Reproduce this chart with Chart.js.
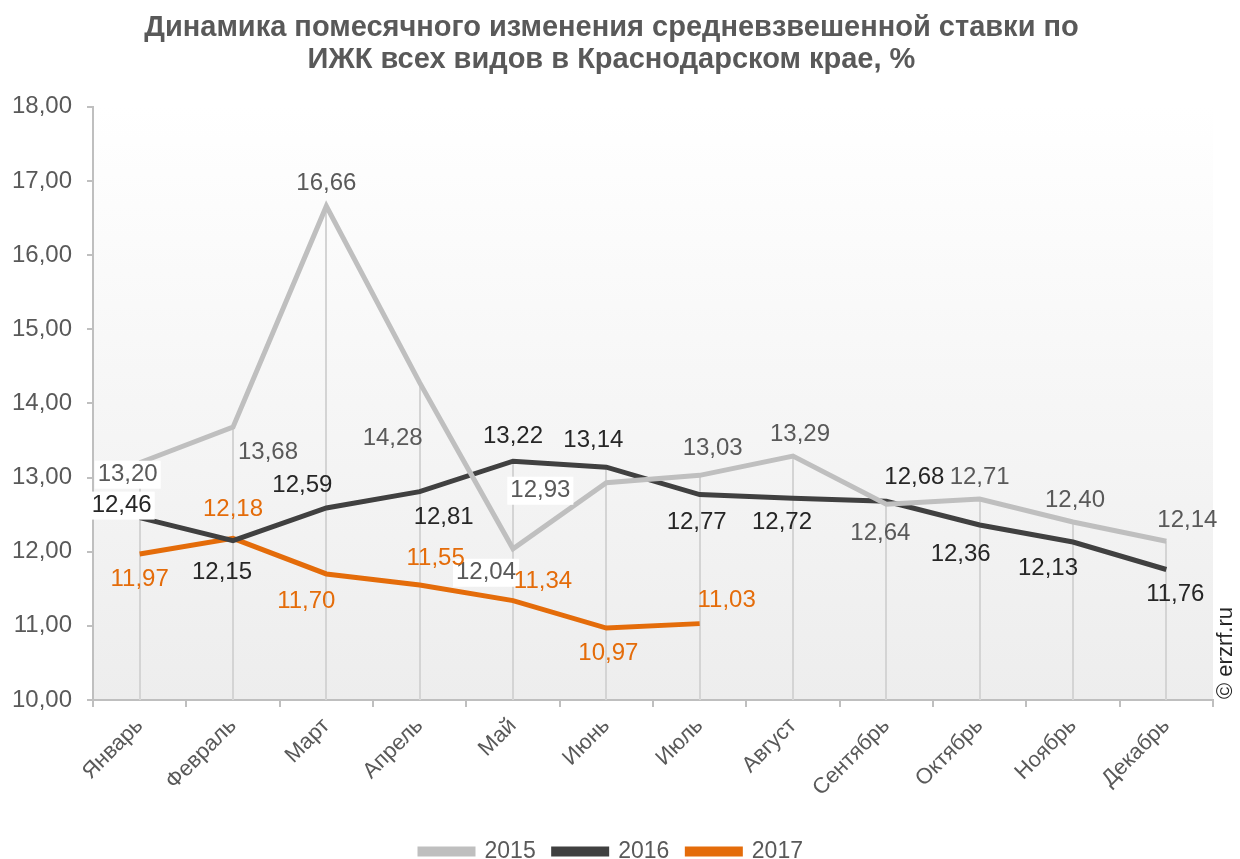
<!DOCTYPE html>
<html>
<head>
<meta charset="utf-8">
<script src="https://cdn.jsdelivr.net/npm/chart.js@4"></script>
<style>
    html, body { margin: 0; padding: 0; background: #ffffff; }
    #wrap { width: 1240px; height: 859px; }
</style>
</head>
<body>
<div id="wrap"><canvas id="rateChart" width="1240" height="859"></canvas></div>
<script>
// Data
const months = ['Январь', 'Февраль', 'Март', 'Апрель', 'Май', 'Июнь', 'Июль', 'Август', 'Сентябрь', 'Октябрь', 'Ноябрь', 'Декабрь'];
const rates2015 = [13.20, 13.68, 16.66, 14.28, 12.04, 12.93, 13.03, 13.29, 12.64, 12.71, 12.40, 12.14];
const rates2016 = [12.46, 12.15, 12.59, 12.81, 13.22, 13.14, 12.77, 12.72, 12.68, 12.36, 12.13, 11.76];
const rates2017 = [11.97, 12.18, 11.70, 11.55, 11.34, 10.97, 11.03];
const yTicks = [10, 11, 12, 13, 14, 15, 16, 17, 18];

// label offsets (px) relative to the point, per series; third item = white box behind
const offsets2015 = [[-12, 12, 1], [35, 25], [0, -23], [-27, 56], [-27, 24, 1], [-66, 8, 1], [13, -27], [7, -22], [-6, 29], [0, -22], [2, -22], [21, -21]];
const offsets2016 = [[-18, -12, 1], [-11, 32], [-24, -23], [24, 26], [0, -25], [-13, -27], [-3, 28], [-11, 24], [28, -24], [-19, 29], [-25, 26], [9, 25]];
const offsets2017 = [[0, 25], [0, -29], [-20, 27], [16, -27], [30, -19], [2, 25], [27, -23]];

const fmt = v => v.toFixed(2).replace('.', ',');

const panelBg = {
    id: 'panelBg',
    beforeDraw(chart) {
        const { ctx, chartArea: a } = chart;
        const g = ctx.createLinearGradient(0, a.top, 0, a.bottom);
        g.addColorStop(0, '#ffffff');
        g.addColorStop(1, '#ededed');
        ctx.save();
        ctx.fillStyle = g;
        ctx.fillRect(a.left, a.top, a.right - a.left, a.bottom - a.top);
        ctx.restore();
    }
};

// vertical drop lines from the highest point of each month
const dropLines = {
    id: 'dropLines',
    beforeDatasetsDraw(chart) {
        const { ctx, scales: { x, y } } = chart;
        ctx.save();
        ctx.strokeStyle = '#d4d4d4';
        ctx.lineWidth = 2;
        months.forEach((m, i) => {
            const vals = [rates2015[i], rates2016[i], rates2017[i]].filter(v => v !== undefined);
            const top = Math.max(...vals);
            const px = Math.round(x.getPixelForValue(i));
            ctx.beginPath();
            ctx.moveTo(px, y.getPixelForValue(top));
            ctx.lineTo(px, y.bottom);
            ctx.stroke();
        });
        ctx.restore();
    }
};

const pointLabels = {
    id: 'pointLabels',
    afterDatasetsDraw(chart) {
        const { ctx } = chart;
        const cfg = [
            { data: rates2015, off: offsets2015, color: '#595959' },
            { data: rates2016, off: offsets2016, color: '#262626' },
            { data: rates2017, off: offsets2017, color: '#e46c0a' }
        ];
        ctx.save();
        ctx.font = '24px "Liberation Sans", Arial, sans-serif';
        ctx.textAlign = 'center';
        ctx.textBaseline = 'middle';
        cfg.forEach((c, di) => {
            const meta = chart.getDatasetMeta(di);
            meta.data.forEach((pt, i) => {
                const tx = pt.x + c.off[i][0];
                const ty = pt.y + c.off[i][1];
                const txt = fmt(c.data[i]);
                if (c.off[i][2]) {
                    const w = ctx.measureText(txt).width + 6;
                    ctx.fillStyle = '#ffffff';
                    ctx.fillRect(tx - w / 2, ty - 14, w, 28);
                }
                ctx.fillStyle = c.color;
                ctx.fillText(txt, tx, ty);
            });
        });
        ctx.restore();
    }
};

const copyright = {
    id: 'copyright',
    afterDraw(chart) {
        const { ctx } = chart;
        ctx.save();
        ctx.translate(1226, 653);
        ctx.rotate(-Math.PI / 2);
        ctx.font = '22px "Liberation Sans", Arial, sans-serif';
        ctx.fillStyle = '#262626';
        ctx.textAlign = 'center';
        ctx.textBaseline = 'middle';
        ctx.fillText('© erzrf.ru', 0, 0);
        ctx.restore();
    }
};

document.addEventListener('DOMContentLoaded', function () {
    const ctx = document.getElementById('rateChart').getContext('2d');
    new Chart(ctx, {
        type: 'line',
        data: {
            labels: months,
            datasets: [
                { label: '2015', data: rates2015, borderColor: '#bfbfbf', backgroundColor: '#bfbfbf', borderWidth: 5, pointRadius: 0, tension: 0 },
                { label: '2016', data: rates2016, borderColor: '#404040', backgroundColor: '#404040', borderWidth: 5, pointRadius: 0, tension: 0 },
                { label: '2017', data: rates2017, borderColor: '#e46c0a', backgroundColor: '#e46c0a', borderWidth: 5, pointRadius: 0, tension: 0 }
            ]
        },
        options: {
            responsive: false,
            animation: false,
            layout: { padding: { left: 10, right: 27, top: 6, bottom: -14 } },
            scales: {
                x: {
                    offset: true,
                    afterFit: s => { s.height = 122; },
                    border: { color: '#bfbfbf', width: 2 },
                    grid: { offset: true, drawOnChartArea: false, color: '#bfbfbf', lineWidth: 2, tickLength: 7 },
                    ticks: {
                        color: '#595959',
                        minRotation: 45,
                        maxRotation: 45,
                        padding: 6,
                        font: { family: 'Liberation Sans', size: 22 }
                    }
                },
                y: {
                    min: 10,
                    max: 18,
                    afterBuildTicks: s => { s.ticks = yTicks.map(v => ({ value: v })); },
                    afterFit: s => { s.width = 83; },
                    border: { color: '#bfbfbf', width: 2 },
                    grid: { drawOnChartArea: false, color: '#bfbfbf', lineWidth: 2, tickLength: 6 },
                    ticks: {
                        color: '#595959',
                        padding: 15,
                        font: { family: 'Liberation Sans', size: 24 },
                        callback: v => fmt(v)
                    }
                }
            },
            plugins: {
                title: {
                    display: true,
                    text: ['Динамика помесячного изменения средневзвешенной ставки по', 'ИЖК всех видов в Краснодарском крае, %'],
                    color: '#595959',
                    font: { family: 'Liberation Sans', size: 29, weight: 'bold', lineHeight: 1.1 },
                    padding: { top: 6, bottom: 31 }
                },
                legend: {
                    position: 'bottom',
                    labels: {
                        color: '#595959',
                        font: { family: 'Liberation Sans', size: 23 },
                        boxWidth: 53,
                        boxHeight: 5,
                        padding: 18
                    }
                },
                tooltip: { enabled: false }
            }
        },
        plugins: [panelBg, dropLines, pointLabels, copyright]
    });
});
</script>
</body>
</html>
